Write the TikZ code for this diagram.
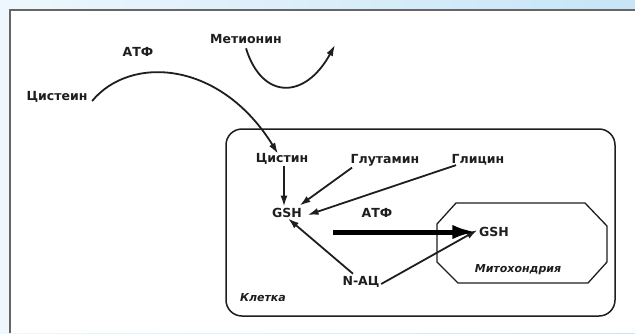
\documentclass[tikz,border=0pt]{standalone}
\usepackage{fontspec}
\setmainfont{DejaVu Sans}
\usetikzlibrary{arrows.meta}
\definecolor{bgA}{HTML}{EEF7FD}
\definecolor{bgB}{HTML}{C6E5F7}
\definecolor{ink}{HTML}{1E1E1E}
\tikzset{
  lbl/.style={inner sep=1.5pt, font=\fontsize{12.5}{14}\selectfont\bfseries, text=ink},
  ilbl/.style={inner sep=1.5pt, font=\fontsize{11}{13}\selectfont\bfseries\itshape, text=ink},
  arr/.style={draw=ink, line width=1.8pt, -{Latex[length=11pt,width=7pt]}},
  bigarr/.style={draw=black, line width=5pt, -{Latex[length=25pt,width=14pt]}},
}
\begin{document}
\begin{tikzpicture}[x=1pt,y=-1pt]
\useasboundingbox (0,0) rectangle (635,333);
% background
\shade[left color=bgA, right color=bgB] (0,0) rectangle (635,333);
\fill[white] (10,10) rectangle (635,333);
\draw[gray!80!black, line width=1.6pt] (10,333) -- (10,10) -- (635,10);
% cell
\draw[ink, line width=1.5pt, rounded corners=16pt] (226,129) rectangle (615,316);
% mitochondrion
\draw[ink, line width=1.3pt] (456,203) -- (585,203) -- (607,226) -- (607,262) -- (588,283) -- (458,283) -- (437,262) -- (437,224) -- cycle;
% labels
\node[lbl] (cys) at (57,97) {Цистеин};
\node[lbl] (atp1) at (138,52) {АТФ};
\node[lbl] (met) at (246,39) {Метионин};
\node[lbl] (cyt) at (282,159) {Цистин};
\node[lbl] (glu) at (385,160) {Глутамин};
\node[lbl] (gly) at (478,160) {Глицин};
\node[lbl] (gsh) at (287,213) {GSH};
\node[lbl] (atp2) at (377,213) {АТФ};
\node[lbl] (gshm) at (494,232) {GSH};
\node[ilbl] (mito) at (518,270) {Митохондрия};
\node[lbl] (nac) at (361,282) {N-АЦ};
\node[ilbl] (cell) at (263,298) {Клетка};
\coordinate (metend) at (335,45);
\coordinate (bigstart) at (333,232);
% connectors
\draw[arr] ([xshift=3pt,yshift=-4pt]cys.east) .. controls (130,55) and (220,60) .. ([xshift=-4pt,yshift=-2pt]cyt.north);
\draw[arr] ([yshift=-3pt]met.south) .. controls (262,100) and (305,100) .. (metend);
\draw[arr] ([xshift=2pt]cyt.south) -- ([xshift=2pt]cyt.south |- gsh.north);
\draw[arr] ([xshift=3pt]glu.south west) -- ([xshift=-4pt,yshift=1pt]gsh.north east);
\draw[arr] ([xshift=6pt,yshift=2pt]gly.south west) -- ([xshift=4pt,yshift=-2pt]gsh.east);
\draw[arr] ([xshift=-8pt,yshift=1pt]nac.north) -- ([xshift=1pt,yshift=1pt]gsh.south);
\draw[arr] ([yshift=-2pt]nac.east) -- ([yshift=2pt]gshm.west);
\draw[bigarr] (bigstart) -- (gshm.west);
\end{tikzpicture}
\end{document}
